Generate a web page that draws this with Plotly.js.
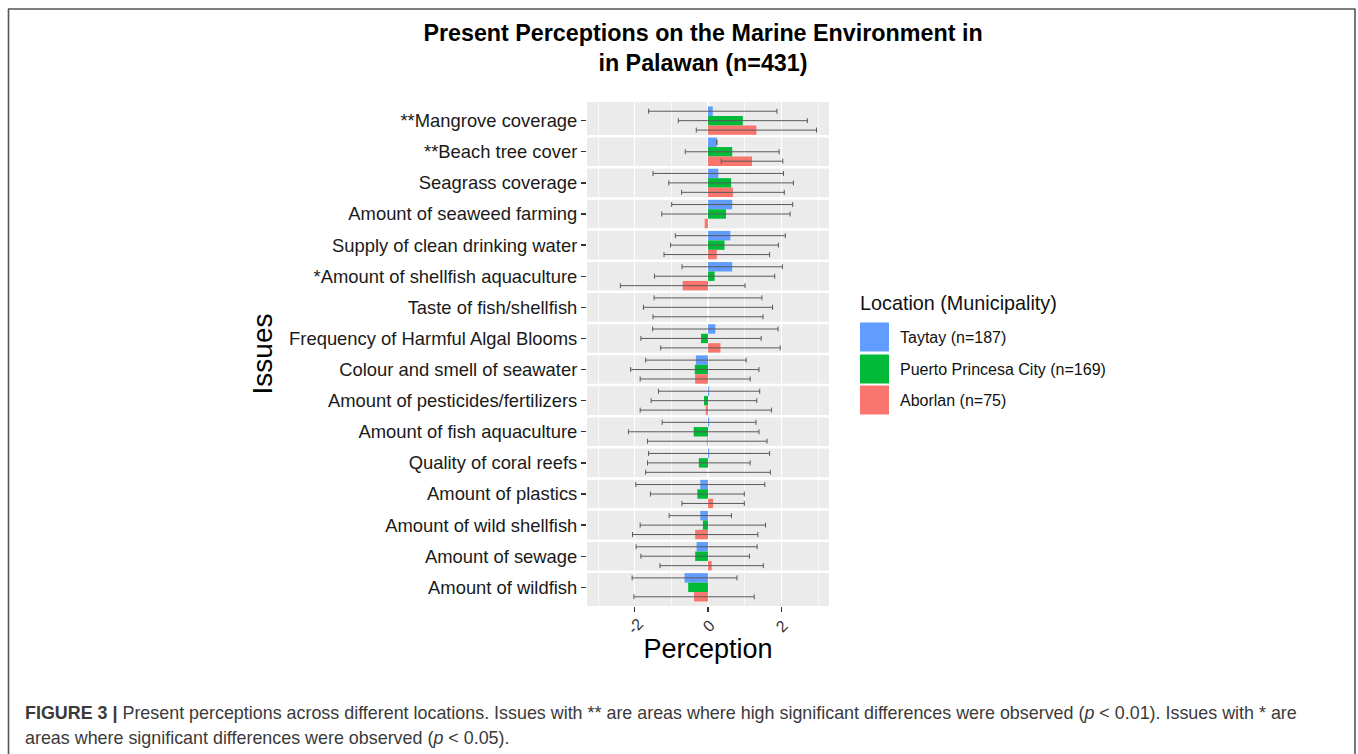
<!DOCTYPE html>
<html>
<head>
<meta charset="utf-8">
<script src="https://cdn.plot.ly/plotly-3.0.1.min.js"></script>
<style>html,body{margin:0;padding:0;background:#fff;}#chart{width:1358px;height:754px;}</style>
</head>
<body>
<div id="chart"></div>
<script>
// ---- data ----
const issues = ["**Mangrove coverage","**Beach tree cover","Seagrass coverage","Amount of seaweed farming","Supply of clean drinking water","*Amount of shellfish aquaculture","Taste of fish/shellfish","Frequency of Harmful Algal Blooms","Colour and smell of seawater","Amount of pesticides/fertilizers","Amount of fish aquaculture","Quality of coral reefs","Amount of plastics","Amount of wild shellfish","Amount of sewage","Amount of wildfish"];
const locationNames = ["Taytay (n=187)","Puerto Princesa City (n=169)","Aborlan (n=75)"];
const taytayMean = [0.13,0.24,0.28,0.66,0.61,0.66,0.0,0.20,-0.33,0.03,0.03,0.03,-0.21,-0.21,-0.31,-0.64];
const taytaySD   = [1.75,0.0,1.78,1.65,1.50,1.37,1.47,1.71,1.37,1.38,1.28,1.65,1.76,0.85,1.65,1.43];
const ppcMean    = [0.95,0.66,0.63,0.49,0.45,0.18,0.0,-0.19,-0.36,-0.11,-0.39,-0.25,-0.29,-0.14,-0.35,-0.54];
const ppcSD      = [1.76,1.28,1.70,1.75,1.47,1.64,1.76,1.64,1.75,1.44,1.78,1.40,1.28,1.71,1.48,null];
const aborlanMean= [1.32,1.20,0.68,-0.09,0.24,-0.69,0.0,0.34,-0.35,-0.06,-0.02,0.0,0.14,-0.35,0.10,-0.38];
const aborlanSD  = [1.64,0.84,1.40,null,1.44,1.70,1.50,1.63,1.50,1.79,1.63,1.70,0.85,1.71,1.41,1.64];
const xTickVals = [-2,0,2];
const xTickLabels = ["-2","0","2"];
const colors = ["#619CFF","#00BA38","#F8766D"];

// ---- layout geometry ----
const W=1358, H=754, L=587, R=829, T=102, B=606;
const px = p => (p-L)/(R-L);
const py = p => (B-p)/(B-T);
const FONT = "Liberation Sans, Arial, sans-serif";

const means = [taytayMean, ppcMean, aborlanMean];
const sds = [taytaySD, ppcSD, aborlanSD];
const traces = means.map((m,i)=>({
  type:'bar', orientation:'h', name:locationNames[i],
  x:m, y:issues,
  marker:{color:colors[i], line:{width:0}},
  error_x:{type:'data', array:sds[i].map(v=>v===null?NaN:v), visible:true,
           color:'#5a5a5a', thickness:1, width:2.5},
  showlegend:false, hoverinfo:'x+y'
}));

const shapes = [];
for(let k=0;k<issues.length-1;k++){
  shapes.push({type:'line', xref:'paper', yref:'y', x0:0, x1:1, y0:k+0.5, y1:k+0.5,
    line:{color:'#ffffff', width:2.5}, layer:'below'});
}
// legend keys
const keyY = [337,369,400];
locationNames.forEach((n,i)=>{
  shapes.push({type:'rect', xref:'paper', yref:'paper', x0:px(860), x1:px(889),
    y0:py(keyY[i]+14.5), y1:py(keyY[i]-14.5), fillcolor:colors[i], line:{width:0}});
});
// figure border
const bc = {color:'#555555', width:1.6};
shapes.push({type:'line', xref:'paper', yref:'paper', x0:px(8), x1:px(1355.5), y0:py(9), y1:py(9), line:bc});
shapes.push({type:'line', xref:'paper', yref:'paper', x0:px(8.5), x1:px(8.5), y0:py(9), y1:py(760), line:bc});
shapes.push({type:'line', xref:'paper', yref:'paper', x0:px(1355), x1:px(1355), y0:py(9), y1:py(760), line:bc});

const annotations = [];
// rotated x tick labels
xTickVals.forEach((v,i)=>{
  annotations.push({xref:'x', yref:'paper', x:v, y:py(626), text:xTickLabels[i], showarrow:false,
    textangle:-45, xanchor:'center', yanchor:'middle', font:{family:FONT, size:16, color:'#333333'}});
});
// legend
annotations.push({xref:'paper', yref:'paper', x:px(858), y:py(303), xanchor:'left', yanchor:'middle',
  text:'Location (Municipality)', showarrow:false, font:{family:FONT, size:19.8, color:'#111111'}});
locationNames.forEach((n,i)=>{
  annotations.push({xref:'paper', yref:'paper', x:px(898), y:py(keyY[i]), xanchor:'left', yanchor:'middle',
    text:n, showarrow:false, font:{family:FONT, size:16, color:'#111111'}});
});
// caption
annotations.push({xref:'paper', yref:'paper', x:px(23), y:py(713), xanchor:'left', yanchor:'middle', align:'left',
  text:'<b>FIGURE 3 |</b> Present perceptions across different locations. Issues with ** are areas where high significant differences were observed (<i>p</i> &lt; 0.01). Issues with * are',
  showarrow:false, font:{family:FONT, size:17.9, color:'#3a3a3a'}});
annotations.push({xref:'paper', yref:'paper', x:px(23), y:py(738), xanchor:'left', yanchor:'middle', align:'left',
  text:'areas where significant differences were observed (<i>p</i> &lt; 0.05).',
  showarrow:false, font:{family:FONT, size:17.9, color:'#3a3a3a'}});

const layout = {
  width:W, height:H,
  margin:{l:L, r:W-R, t:T, b:H-B, pad:0},
  paper_bgcolor:'#ffffff', plot_bgcolor:'#EBEBEB',
  barmode:'group', bargap:0.09, bargroupgap:0,
  showlegend:false,
  font:{family:FONT, color:'#111111'},
  title:{text:'<b>Present Perceptions on the Marine Environment in<br>in Palawan (n=431)</b>',
    x:703/W, xanchor:'center', xref:'container', y:1-41/H, yanchor:'top', yref:'container',
    font:{family:FONT, size:23.3, color:'#000000'}},
  xaxis:{range:[-3.3,3.3], tickmode:'array', tickvals:xTickVals, showticklabels:false,
    ticks:'outside', ticklen:5, tickwidth:1.2, tickcolor:'#333333',
    showgrid:true, gridcolor:'#ffffff', gridwidth:1.3, zeroline:false, showline:false,
    minor:{tickmode:'array', tickvals:[-3,-1,1,3], showgrid:true, gridcolor:'#ffffff', gridwidth:0.7, ticks:''},
    title:{text:'Perception', font:{family:FONT, size:27, color:'#000000'}, standoff:28},
    automargin:false, fixedrange:true},
  yaxis:{type:'category', range:[15.6,-0.6], showgrid:false, zeroline:false, showline:false,
    ticks:'outside', ticklen:5, tickwidth:1.4, tickcolor:'#333333',
    tickfont:{family:FONT, size:18.4, color:'#1a1a1a'},
    title:{text:'Issues', font:{family:FONT, size:28, color:'#000000'}, standoff:8},
    automargin:false, fixedrange:true},
  shapes:shapes, annotations:annotations
};
Plotly.newPlot('chart', traces, layout, {staticPlot:true, displayModeBar:false});
</script>
</body>
</html>
